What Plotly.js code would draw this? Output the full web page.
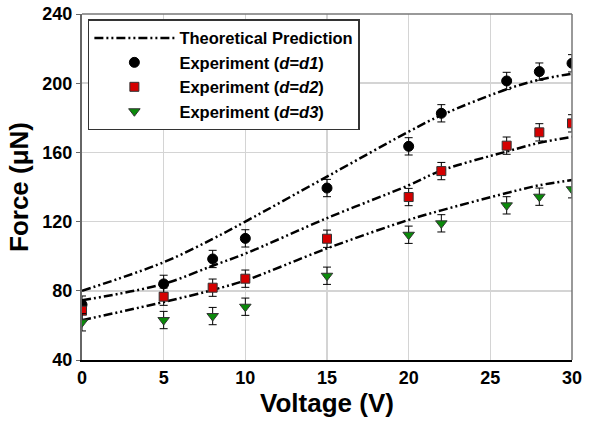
<!DOCTYPE html>
<html>
<head>
<meta charset="utf-8">
<script src="https://cdn.plot.ly/plotly-3.0.1.min.js"></script>
<style>html,body{margin:0;padding:0;background:#fff;}#chart{width:590px;height:426px;}</style>
</head>
<body>
<div id="chart"></div>
<script>
// Experimental data
const voltage = [0, 5, 8, 10, 15, 20, 22, 26, 28, 30];
const forceD1 = [72, 84, 98.4, 110.3, 139.4, 163.5, 182.6, 201.3, 206.7, 211.5];
const forceD2 = [68.5, 76.6, 81.8, 87, 110.1, 134.2, 149.2, 163.9, 171.6, 176.8];
const forceD3 = [61.8, 63.1, 65.4, 70.8, 88.7, 112.4, 119, 129.4, 134.4, 138.7];
const errD = [5, 5, 5, 5, 5, 5, 5, 5, 5, 5];

// Theoretical predictions
const theoryV = [0, 5, 8, 10, 15, 20, 22, 26, 28, 30];
const theoryD1 = [80, 96.5, 110, 120, 146, 172, 181.5, 196.5, 202, 205.5];
const theoryD2 = [74.5, 84, 94.5, 101.5, 122, 141, 149.5, 160.5, 165.5, 169];
const theoryD3 = [63, 73.5, 80.5, 86, 104.5, 121, 126.5, 136.5, 141, 144];

const xTicks = [0, 5, 10, 15, 20, 25, 30];
const yTicks = [40, 80, 120, 160, 200, 240];

const dashStyle = "9px,3px,2px,3px,2px,3px";
const lineStyle = {color: "black", width: 2.5, dash: dashStyle, shape: "spline"};
const errStyle = (arr) => ({type: "data", array: arr, visible: true, color: "black", thickness: 1, width: 4});

const traces = [
  {x: theoryV, y: theoryD1, mode: "lines", line: lineStyle, name: "Theoretical Prediction", showlegend: true},
  {x: theoryV, y: theoryD2, mode: "lines", line: lineStyle, showlegend: false},
  {x: theoryV, y: theoryD3, mode: "lines", line: lineStyle, showlegend: false},
  {x: voltage, y: forceD1, mode: "markers", name: "Experiment (<i>d</i>=<i>d1</i>)",
   marker: {symbol: "circle", size: 10, color: "black", line: {color: "black", width: 1}}, error_y: errStyle(errD)},
  {x: voltage, y: forceD2, mode: "markers", name: "Experiment (<i>d</i>=<i>d2</i>)",
   marker: {symbol: "square", size: 9, color: "#d40000", line: {color: "#333", width: 1}}, error_y: errStyle(errD)},
  {x: voltage, y: forceD3, mode: "markers", name: "Experiment (<i>d</i>=<i>d3</i>)",
   marker: {symbol: "triangle-down", size: 10, color: "#0a8a0a", line: {color: "#333", width: 1}}, error_y: errStyle(errD)}
];

const layout = {
  width: 590, height: 426,
  margin: {l: 82, r: 18, t: 14, b: 66},
  paper_bgcolor: "white", plot_bgcolor: "white",
  font: {family: "Liberation Sans, Arial, sans-serif", color: "black"},
  xaxis: {
    range: [0, 30], tickvals: xTicks, ticktext: xTicks.map(String),
    showgrid: true, gridcolor: "#d4d4d4", gridwidth: 1.5, zeroline: false,
    showline: true, linecolor: "black", linewidth: 2, ticks: "",
    tickfont: {size: 18, weight: "bold"},
    title: {text: "<b>Voltage (V)</b>", font: {size: 26}, standoff: 4}
  },
  yaxis: {
    range: [40, 240], tickvals: yTicks, ticktext: yTicks.map(String),
    showgrid: true, gridcolor: "#d4d4d4", gridwidth: 1.5, zeroline: false,
    showline: true, linecolor: "#666", linewidth: 2, ticks: "outside", ticklen: 4, tickcolor: "#666",
    tickfont: {size: 18, weight: "bold"},
    title: {text: "<b>Force (μN)</b>", font: {size: 26}, standoff: 6}
  },
  shapes: [
    {type: "line", xref: "paper", yref: "paper", x0: 0, x1: 1, y0: 1, y1: 1, line: {color: "#777", width: 1.5}},
    {type: "line", xref: "paper", yref: "paper", x0: 1, x1: 1, y0: 0, y1: 1, line: {color: "#777", width: 1.5}}
  ],
  legend: {
    x: 0.012, y: 0.985, xanchor: "left", yanchor: "top",
    bgcolor: "white", bordercolor: "#333", borderwidth: 1.5,
    font: {size: 16.5, weight: "bold"}, itemwidth: 80,
    tracegroupgap: 0
  }
};

Plotly.newPlot("chart", traces, layout, {displayModeBar: false, staticPlot: true});
</script>
</body>
</html>
